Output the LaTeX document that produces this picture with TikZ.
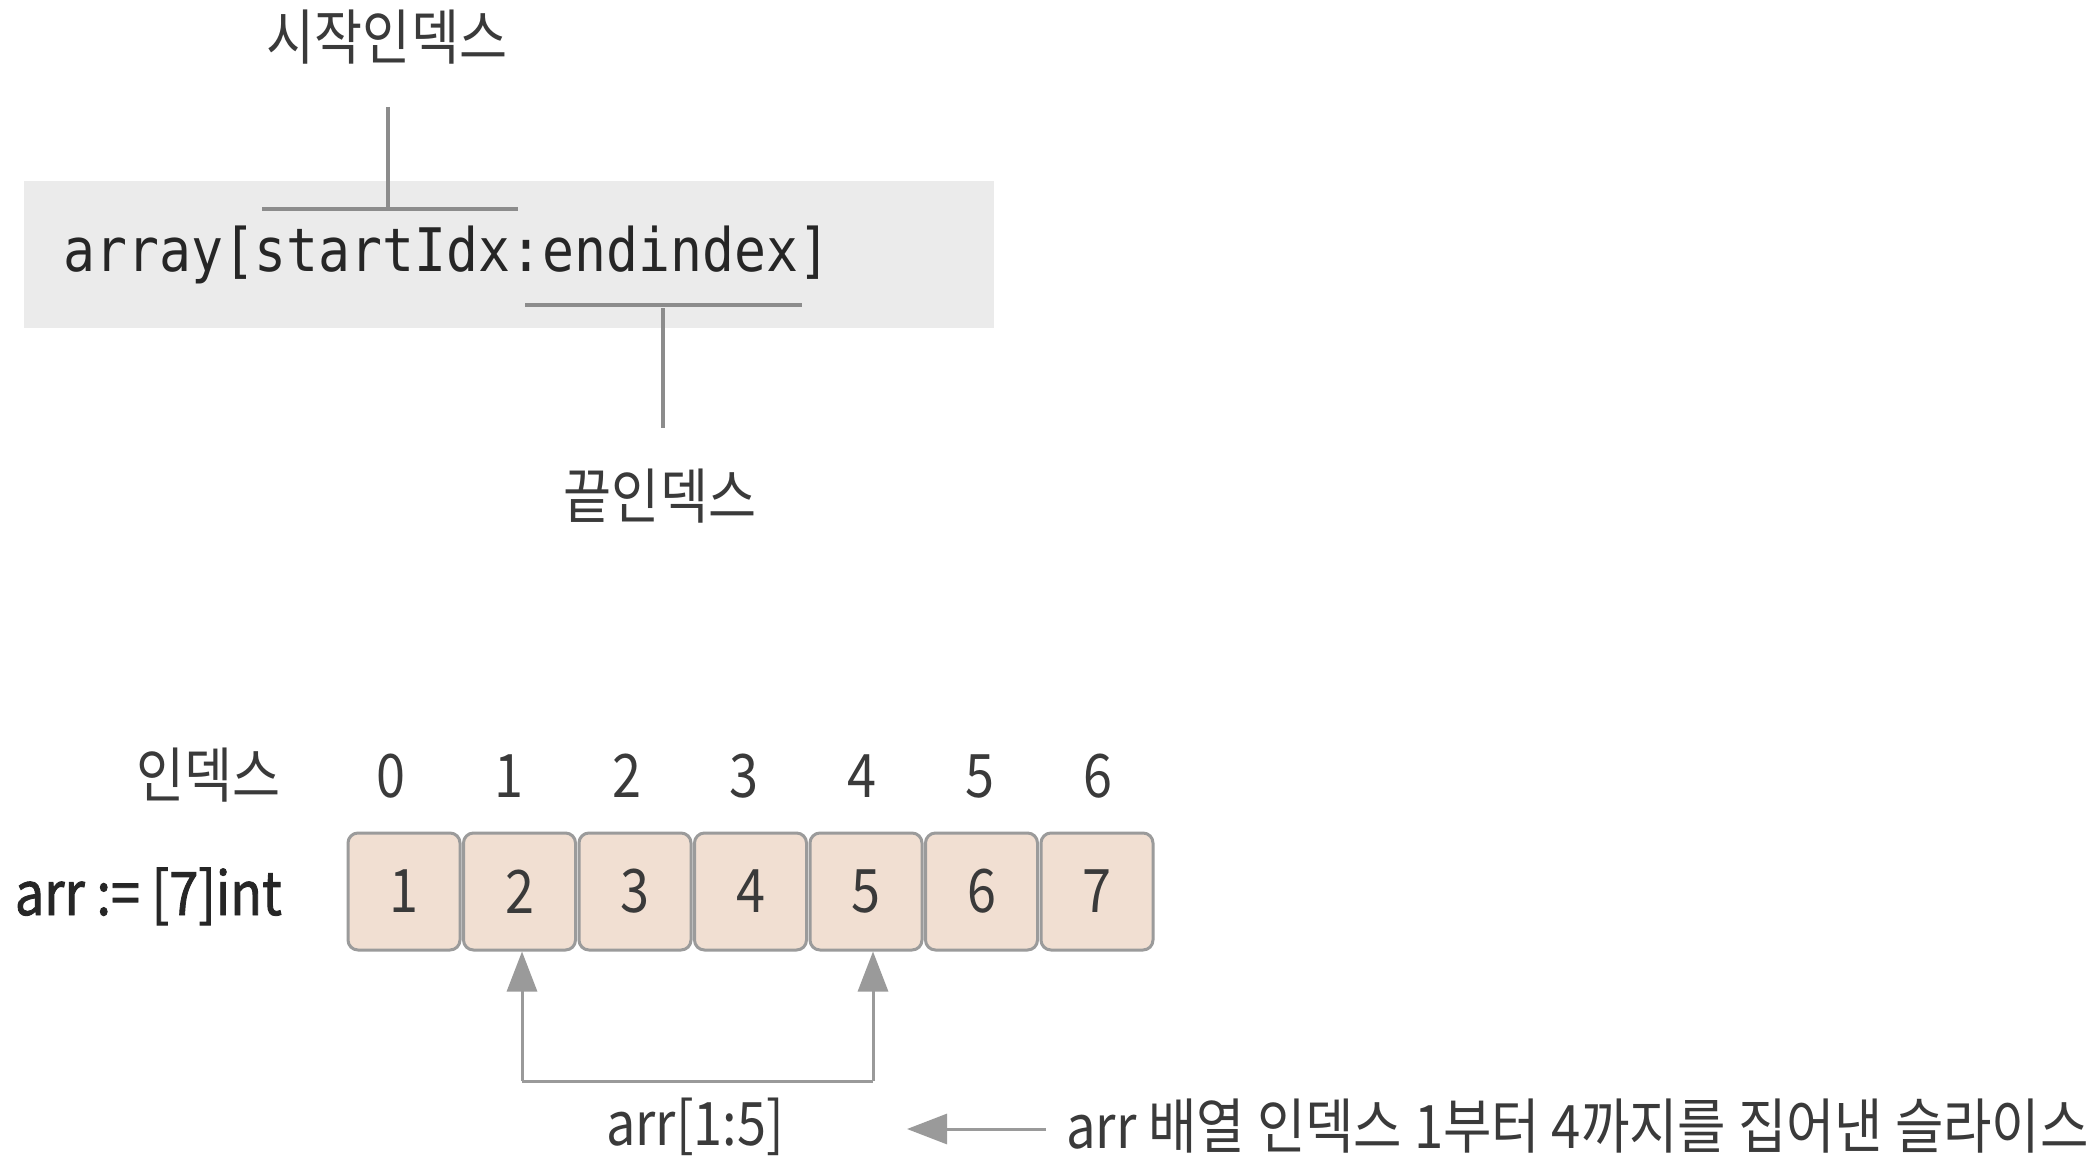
\documentclass[tikz,border=0pt]{standalone}
\usepackage{fontspec}
\usetikzlibrary{arrows.meta}
\newfontfamily\krfont[FakeStretch=0.87]{Noto Sans CJK KR}
\newfontfamily\krdesc[FakeStretch=0.877]{Noto Sans CJK KR}
\newfontfamily\krbfont[FakeStretch=0.87,FakeBold=1.5]{Noto Sans CJK KR}
\newfontfamily\codefont[FakeStretch=0.885]{DejaVu Sans Mono}
\definecolor{codebg}{HTML}{EBEBEB}
\definecolor{codetxt}{HTML}{262626}
\definecolor{leadgray}{HTML}{8C8C8C}
\definecolor{lbltxt}{HTML}{3A3A3A}
\definecolor{cellfill}{HTML}{F1DFD2}
\definecolor{celldraw}{HTML}{9B9B9B}
\definecolor{arrgray}{HTML}{9A9A9A}
\begin{document}
\begin{tikzpicture}[x=1pt,y=-1pt,
  lbl/.style={inner sep=0pt,text=lbltxt,font=\krfont\fontsize{60}{72}\selectfont},
  lblb/.style={inner sep=0pt,text=codetxt,font=\krbfont\fontsize{60}{72}\selectfont},
  codetext/.style={inner sep=0pt,text=codetxt,font=\codefont\fontsize{60}{72}\selectfont},
  cell/.style={draw=celldraw,fill=cellfill,line width=3pt,rounded corners=10pt,
    minimum width=112pt,minimum height=117pt,inner sep=0pt,text=lbltxt,
    font=\krfont\fontsize{60}{72}\selectfont},
  leadline/.style={draw=leadgray,line width=3.5pt},
  ptr/.style={draw=arrgray,line width=3pt,-{Triangle[length=40pt,width=30pt]}}]
\useasboundingbox (0,0) rectangle (2100,1166);
\fill[white] (0,0) rectangle (2100,1166);
% code box
\node[fill=codebg,minimum width=970pt,minimum height=147pt,inner sep=0pt,anchor=north west] (codebox) at (24,181) {};
\node[codetext,anchor=base west] (code) at (63,272) {array[startIdx:endindex]};
% start index label
\node[lbl,anchor=base] (startlbl) at (387,60) {시작인덱스};
\coordinate (st) at (388,107);
\coordinate (sm) at (388,209);
\coordinate (sl) at (262,209);
\coordinate (sr) at (518,209);
\draw[leadline] (sl) -- (sr);
\draw[leadline] (st) -- (sm);
% end index label
\node[lbl,anchor=base] (endlbl) at (660,518) {끝인덱스};
\coordinate (el) at (525,305);
\coordinate (er) at (802,305);
\coordinate (em) at (663,308);
\coordinate (eb) at (663,428);
\draw[leadline] (el) -- (er);
\draw[leadline] (em) -- (eb);
% index row
\node[lbl,anchor=base east] (idxlbl) at (281,797) {인덱스};
\foreach \i in {0,...,6} {
  \node[lbl,anchor=base] (i\i) at ({391+117.8*\i},797) {\i};
}
% array row
\node[lblb,anchor=base east] (decl) at (282,915) {arr := [7]int};
\foreach \i [evaluate=\i as \v using int(\i+1)] in {0,...,6} {
  \node[cell] (b\i) at ({404+115.5*\i},891.5) {\v};
}
% slice pointers
\coordinate (pl) at (522,1081);
\coordinate (pr) at (873,1081);
\draw[draw=arrgray,line width=3pt] (pl) -- (pr);
\draw[ptr] (pr) -- (pr |- b4.south);
\draw[ptr] (pl) -- (pl |- b1.south);
\node[lbl,anchor=base] (slice) at (695,1145) {arr[1:5]};
\node[lbl,font=\krdesc\fontsize{60}{72}\selectfont,anchor=base west] (desc) at (1066,1148) {arr 배열 인덱스 1부터 4까지를 집어낸 슬라이스};
\draw[ptr,shorten <=20pt,shorten >=123pt] (desc.west |- 0,1129) -- (slice.east |- 0,1129);
\end{tikzpicture}
\end{document}
